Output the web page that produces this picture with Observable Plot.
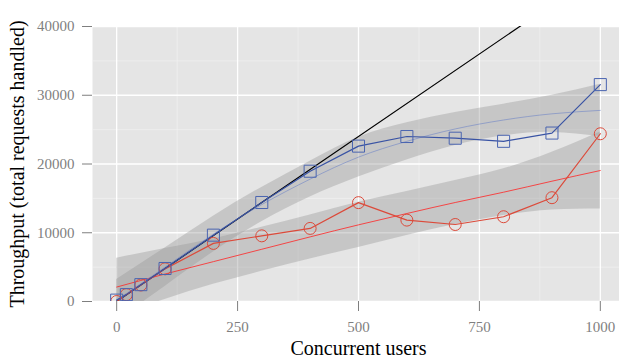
<!DOCTYPE html>
<html>
<head>
<meta charset="utf-8">
<script src="https://cdn.jsdelivr.net/npm/d3@7"></script>
<script src="https://cdn.jsdelivr.net/npm/@observablehq/plot@0.6"></script>
<style>
  html, body { margin: 0; padding: 0; background: #fff; }
  #chart svg { display: block; }
</style>
</head>
<body>
<div id="chart"></div>
<script>
// Measured points
const users = [0, 20, 50, 100, 200, 300, 400, 500, 600, 700, 800, 900, 1000];
const blueThroughput = [200, 1000, 2450, 4800, 9650, 14400, 18950, 22600, 24000, 23750, 23300, 24500, 31550];
const redThroughput = [0, 1000, 2400, 4750, 8450, 9550, 10630, 14380, 11840, 11200, 12330, 15100, 24400];

// Smoothed fits and their confidence bands
const fitUsers = [0, 100, 200, 300, 400, 500, 600, 700, 800, 900, 1000];
const blueFit  = [200, 5000, 9800, 14100, 17800, 21000, 23300, 25100, 26400, 27300, 27800];
const blueLow  = [-2800, 2200, 7200, 11600, 15200, 18100, 20600, 22700, 24100, 24600, 24000];
const blueHigh = [3200, 7800, 12400, 16600, 20400, 23900, 26000, 27500, 28700, 30000, 31600];
const redFit   = [2100, 4000, 5800, 7600, 9400, 11150, 12800, 14400, 15900, 17500, 19050];
const redLow   = [-2100, 300, 2500, 4400, 6200, 7850, 9600, 11200, 12500, 13300, 13450];
const redHigh  = [6300, 7700, 9100, 10800, 12600, 14450, 16000, 17600, 19300, 21700, 24650];

// Ideal linear scaling
const idealUsers = [0, 1000];
const idealThroughput = [0, 48000];

// Ticks
const xTicks = [0, 250, 500, 750, 1000];
const xMinor = [125, 375, 625, 875];
const yTicks = [0, 10000, 20000, 30000, 40000];
const yMinor = [5000, 15000, 25000, 35000];

const pts = users.map((u, i) => ({u, b: blueThroughput[i], r: redThroughput[i]}));
const fits = fitUsers.map((u, i) => ({
  u, bf: blueFit[i], blo: blueLow[i], bhi: blueHigh[i],
  rf: redFit[i], rlo: redLow[i], rhi: redHigh[i]
}));
const ideal = idealUsers.map((u, i) => ({u, t: idealThroughput[i]}));

const FONT = "'Liberation Serif', 'DejaVu Serif', serif";
const BLUE = "#3953a4";
const RED = "#dc4a3a";

const chart = Plot.plot({
  width: 619,
  height: 360,
  marginLeft: 92,
  marginRight: -5,
  marginTop: 26,
  marginBottom: 59,
  style: {fontFamily: FONT, background: "#fff"},
  x: {domain: [-50, 1050]},
  y: {domain: [0, 40000]},
  marks: [
    Plot.frame({fill: "#e5e5e5", stroke: null}),
    Plot.ruleY(yMinor, {stroke: "#f3f3f3", strokeWidth: 0.6}),
    Plot.ruleX(xMinor, {stroke: "#f3f3f3", strokeWidth: 0.6}),
    Plot.ruleY(yTicks, {stroke: "#ffffff", strokeWidth: 1.3}),
    Plot.ruleX(xTicks, {stroke: "#ffffff", strokeWidth: 1.3}),
    Plot.areaY(fits, {x: "u", y1: "blo", y2: "bhi", fill: "#999999", fillOpacity: 0.4, curve: "natural", clip: true}),
    Plot.areaY(fits, {x: "u", y1: "rlo", y2: "rhi", fill: "#999999", fillOpacity: 0.4, curve: "natural", clip: true}),
    Plot.line(ideal, {x: "u", y: "t", stroke: "#000", strokeWidth: 1.2, clip: true}),
    Plot.line(fits, {x: "u", y: "rf", stroke: "#ff2424", strokeWidth: 0.8, curve: "natural", clip: true}),
    Plot.line(fits, {x: "u", y: "bf", stroke: "#6f84c6", strokeWidth: 0.6, curve: "natural", clip: true}),
    Plot.line(pts, {x: "u", y: "r", stroke: RED, strokeWidth: 1.2, clip: true}),
    Plot.line(pts, {x: "u", y: "b", stroke: BLUE, strokeWidth: 1.2, clip: true}),
    Plot.dot(pts, {x: "u", y: "r", symbol: "circle", r: 6, stroke: RED, strokeWidth: 1, fill: "none", clip: true}),
    Plot.dot(pts, {x: "u", y: "b", symbol: "square", r: 6.8, stroke: "#4a64b0", strokeWidth: 1, fill: "none", clip: true}),
    Plot.axisX(xTicks, {tickSize: 10, tickPadding: 10, fontSize: 15, color: "#7f7f7f", stroke: "#7f7f7f", tickFormat: d3.format("d"), label: null}),
    Plot.axisY(yTicks, {tickSize: 10, tickPadding: 8, fontSize: 15, color: "#7f7f7f", stroke: "#7f7f7f", tickFormat: d3.format("d"), label: null}),
    Plot.text(["Concurrent users"], {frameAnchor: "bottom", dy: 47, lineAnchor: "middle", fontSize: 20, fill: "#000", fontFamily: FONT}),
    Plot.text(["Throughput (total requests handled)"], {frameAnchor: "left", dx: -75, textAnchor: "middle", lineAnchor: "middle", rotate: -90, fontSize: 20, fill: "#000", fontFamily: FONT})
  ]
});
document.getElementById("chart").appendChild(chart);
</script>
</body>
</html>
